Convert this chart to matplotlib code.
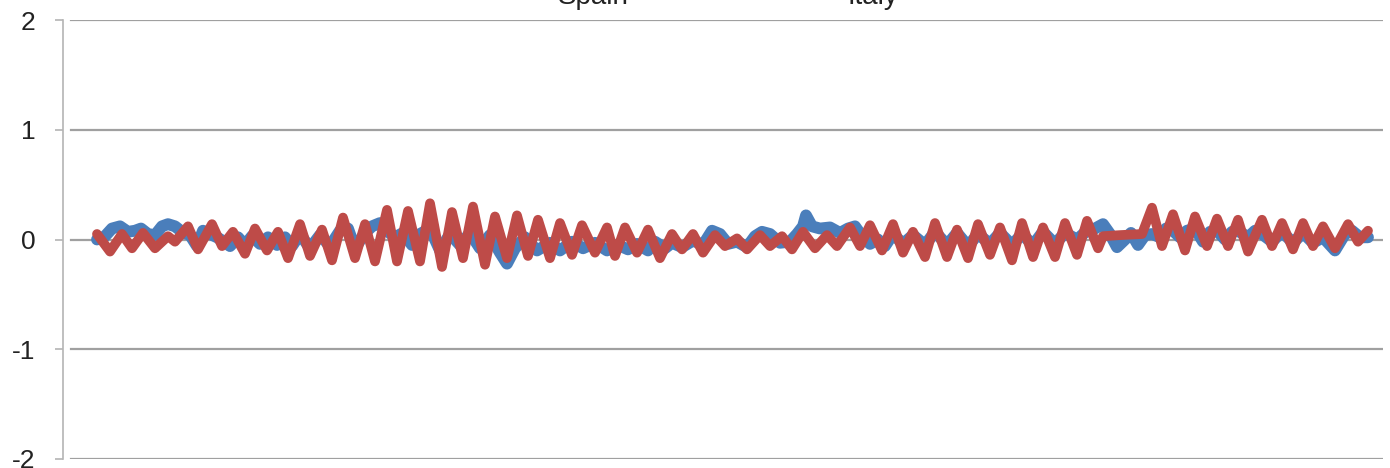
import numpy as np
import matplotlib.pyplot as plt

plt.rcParams['font.family'] = ['Liberation Sans', 'DejaVu Sans']

# Italy (red) - turning points
italy_t = [97, 110, 122, 132, 143, 155, 168, 175, 188, 198, 212, 222, 233, 245, 255, 267,
           278, 288, 300, 310, 322, 332, 343, 355, 365, 375, 387, 397, 408, 420, 430, 442,
           452, 463, 473, 485, 495, 507, 517, 528, 538, 550, 560, 572, 582, 595, 607, 615,
           625, 637, 648, 660, 672, 682, 693, 703, 715, 725, 737, 747, 760, 770, 782, 792,
           803, 815, 827, 837, 850, 860, 870, 882, 893, 903, 913, 925, 935, 947, 957, 968,
           978, 990, 1000, 1012, 1022, 1033, 1043, 1055, 1065, 1077, 1087, 1098, 1103, 1120,
           1142, 1152, 1162, 1173, 1185, 1195, 1207, 1217, 1228, 1238, 1248, 1262, 1272,
           1282, 1293, 1303, 1313, 1323, 1335, 1348, 1358, 1368]
italy = [0.05, -0.11, 0.05, -0.08, 0.06, -0.08, 0.03, -0.02, 0.12, -0.09, 0.14, -0.06,
         0.07, -0.13, 0.10, -0.10, 0.07, -0.17, 0.14, -0.15, 0.09, -0.19, 0.20, -0.17,
         0.14, -0.20, 0.27, -0.20, 0.26, -0.20, 0.33, -0.25, 0.25, -0.17, 0.30, -0.23,
         0.21, -0.17, 0.22, -0.15, 0.18, -0.17, 0.15, -0.14, 0.13, -0.12, 0.11, -0.15,
         0.11, -0.12, 0.09, -0.17, 0.05, -0.09, 0.05, -0.12, 0.04, -0.06, 0.01, -0.09,
         0.04, -0.06, 0.03, -0.09, 0.07, -0.08, 0.04, -0.06, 0.11, -0.06, 0.13, -0.10,
         0.14, -0.12, 0.07, -0.16, 0.15, -0.16, 0.09, -0.17, 0.14, -0.14, 0.11, -0.19,
         0.15, -0.16, 0.11, -0.16, 0.15, -0.14, 0.17, -0.08, 0.03, 0.04,
         0.05, 0.29, -0.06, 0.23, -0.10, 0.21, -0.06, 0.19, -0.06, 0.18, -0.11, 0.18, -0.06,
         0.15, -0.09, 0.15, -0.06, 0.12, -0.08, 0.14, -0.02, 0.08]

# Spain (blue)
spain_t = [97, 105, 112, 120, 128, 135, 141, 148, 155, 162, 168, 175, 182, 190, 197, 203,
           210, 217, 224, 230, 238, 245, 252, 260, 268, 277, 285, 292, 300, 310, 320, 330,
           340, 348, 355, 365, 372, 380, 387, 395, 403, 412, 420, 430, 440, 450, 460, 470,
           480, 490, 500, 507, 515, 525, 537, 550, 560, 572, 583, 595, 607, 618, 628, 637,
           648, 655, 665, 672, 682, 693, 703, 712, 720, 728, 737, 747, 755, 762, 770, 780,
           790, 797, 803, 806, 812, 820, 830, 840, 848, 855, 862, 870, 878, 885, 893, 903,
           913, 925, 935, 947, 957, 968, 978, 990, 1000, 1012, 1022, 1033, 1043, 1055, 1065,
           1077, 1087, 1095, 1103, 1110, 1117, 1125, 1131, 1138, 1145, 1152, 1160, 1166,
           1173, 1180, 1187, 1195, 1203, 1210, 1217, 1225, 1232, 1238, 1248, 1255, 1262,
           1272, 1282, 1293, 1303, 1313, 1323, 1335, 1345, 1352, 1360, 1368]
spain = [0.00, 0.03, 0.10, 0.12, 0.07, 0.08, 0.10, 0.05, 0.04, 0.12, 0.14, 0.12, 0.07,
         0.04, -0.06, 0.08, 0.05, 0.02, -0.02, -0.06, 0.02, -0.05, 0.03, -0.04, 0.02,
         -0.05, 0.02, -0.06, 0.05, -0.08, 0.04, -0.06, 0.08, 0.10, -0.08, 0.06, 0.12,
         0.15, 0.08, 0.02, 0.06, -0.05, 0.05, 0.10, -0.10, 0.05, -0.05, 0.06, -0.08,
         0.04, -0.12, -0.22, -0.08, 0.02, -0.10, -0.03, -0.10, -0.02, -0.08, -0.03,
         -0.10, -0.05, -0.09, -0.04, -0.10, -0.02, -0.08, -0.03, -0.07, -0.01, -0.05,
         0.08, 0.05, -0.04, -0.02, -0.07, 0.03, 0.07, 0.05, -0.03, -0.02, 0.05, 0.12,
         0.22, 0.12, 0.10, 0.11, 0.06, 0.10, 0.12, 0.03, -0.04, 0.00, -0.06, 0.05,
         -0.04, 0.04, -0.05, 0.07, -0.05, 0.06, -0.06, 0.05, -0.04, 0.06, -0.05, 0.05,
         -0.05, 0.07, -0.04, 0.06, 0.00, 0.08, 0.10, 0.14, 0.05, -0.07, 0.00, 0.06,
         -0.05, 0.04, 0.05, 0.02, 0.10, 0.08, 0.02, 0.08, 0.10, -0.02, 0.07, 0.08,
         0.00, 0.07, 0.08, 0.02, 0.08, 0.05, -0.02, 0.07, -0.03, 0.06, -0.03, 0.02,
         -0.10, 0.05, 0.08, 0.02, 0.02]

yticks = [-2, -1, 0, 1, 2]

fig = plt.figure(figsize=(13.9, 4.68), dpi=100)
ax = fig.add_axes([63/1390, 9/468, 1320/1390, 439/468])

for y in yticks:
    ax.axhline(y, xmin=8/1320, xmax=1, color='#a0a0a0', lw=1.6, zorder=1)

ax.plot(spain_t, spain, color='#4a7ebb', lw=8.5, solid_joinstyle='round',
        solid_capstyle='round', zorder=2)
ax.plot(italy_t, italy, color='#be4b48', lw=7, solid_joinstyle='round',
        solid_capstyle='round', zorder=3)

ax.set_xlim(63, 1383)
ax.set_ylim(-2, 2)
ax.set_yticks(yticks)
ax.set_yticklabels([str(v) for v in yticks])
ax.set_xticks([])
for s in ['top', 'right', 'bottom']:
    ax.spines[s].set_visible(False)
ax.spines['left'].set_color('#b4b4b4')
ax.spines['left'].set_linewidth(1.2)
ax.tick_params(axis='y', length=6, width=1.2, color='#b4b4b4', pad=14,
               labelsize=19, labelcolor='#222222')

fig.text(558/1390, 1 - 4/468, 'Spain', fontsize=20, color='#222222', va='baseline')
fig.text(848/1390, 1 - 4/468, 'Italy', fontsize=20, color='#222222', va='baseline')

fig.savefig('out.png', dpi=100)
